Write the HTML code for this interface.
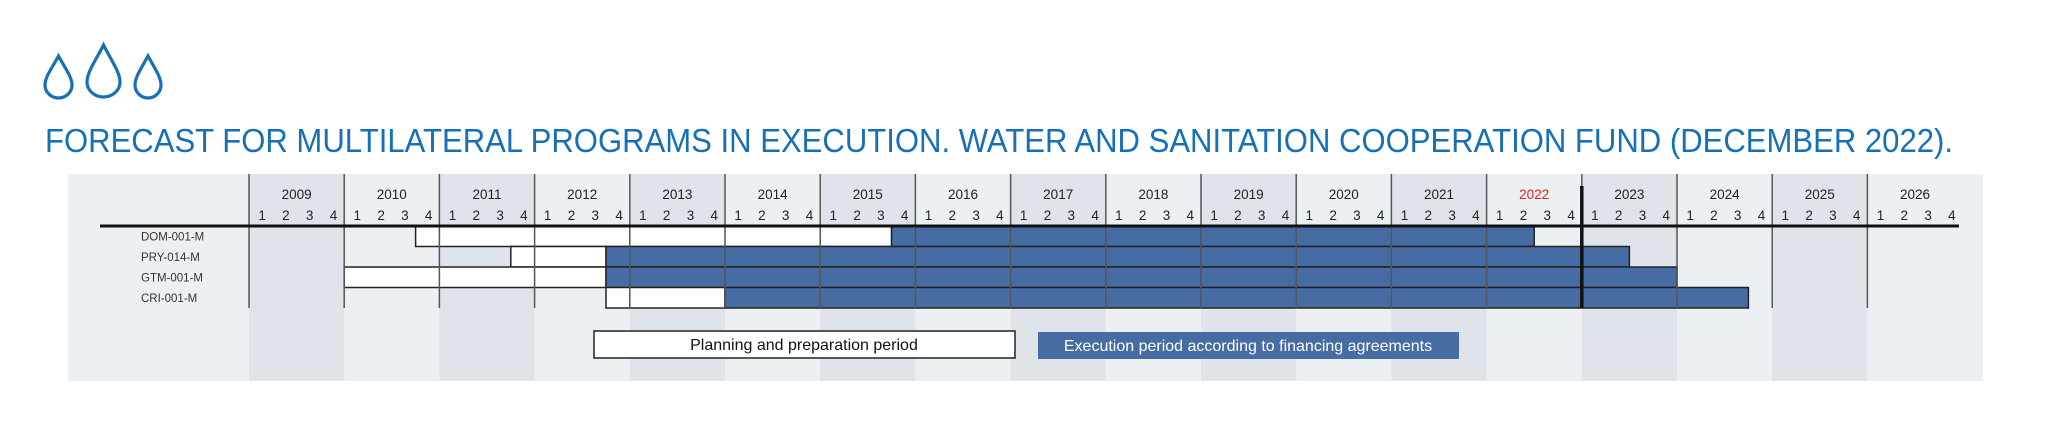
<!DOCTYPE html>
<html><head><meta charset="utf-8"><style>
html,body{margin:0;padding:0;background:#fff;width:2048px;height:444px;overflow:hidden;font-family:"Liberation Sans",sans-serif}
</style></head><body>
<svg id="chart" width="2048" height="444" xmlns="http://www.w3.org/2000/svg" style="font-family:'Liberation Sans',sans-serif">
<g fill="none" stroke="#1570b8" stroke-width="3.2">
<path d="M58.5 56 C52 68 45 77 45 85 A13.5 13 0 0 0 72 85 C72 77 65 68 58.5 56 Z"/>
<path d="M103.5 45 C96 60 87 72 87 82 A16.5 15 0 0 0 120 82 C120 72 111 60 103.5 45 Z"/>
<path d="M148 56 C141.5 68 135 77 135 85 A13 13 0 0 0 161 85 C161 77 154.5 68 148 56 Z"/>
</g>
<text x="45" y="152" font-size="33" fill="#1570b8" textLength="1908" lengthAdjust="spacingAndGlyphs">FORECAST FOR MULTILATERAL PROGRAMS IN EXECUTION. WATER AND SANITATION COOPERATION FUND (DECEMBER 2022).</text>
<rect x="68" y="174" width="1915" height="207" fill="#edf0f3"/>
<g id="bands"></g><g id="bars"></g><g id="grid"></g><g id="labels"></g>
<g>
<rect x="594" y="331" width="421" height="27" fill="#fff" stroke="#222" stroke-width="1.5"/>
<text x="804" y="350" font-size="16" text-anchor="middle" fill="#111">Planning and preparation period</text>
<rect x="1038" y="332" width="421" height="27" fill="#466ca3"/>
<text x="1248" y="351" font-size="16" text-anchor="middle" fill="#fff">Execution period according to financing agreements</text>
</g>
</svg>
<script>
const years=[2009,2010,2011,2012,2013,2014,2015,2016,2017,2018,2019,2020,2021,2022,2023,2024,2025,2026];
const quarterLabels=["1","2","3","4"];
const projects=["DOM-001-M","PRY-014-M","GTM-001-M","CRI-001-M"];
const planStart=[2010.75,2011.75,2010.0,2012.75];
const execStart=[2015.75,2012.75,2012.75,2014.0];
const execEnd=[2022.5,2023.5,2024.0,2024.75];
const currentYear=2022;
const todayMark=2023.0;
const X0=249,YW=95.2,AXY=226,RH=20.5,TOP=174,GBOT=308;
const NS="http://www.w3.org/2000/svg";
function xs(t){return X0+(t-years[0])*YW;}
function ys(i){return AXY+i*RH;}
function mk(tag,attrs,parent){const e=document.createElementNS(NS,tag);for(const k in attrs)e.setAttribute(k,attrs[k]);document.getElementById(parent).appendChild(e);return e;}
years.forEach((y,i)=>{
  if(y%2===1){const b=mk('rect',{x:xs(y),y:TOP,width:YW,height:207,fill:'#dfe3ea'},'bands');
  
  }
  const l=mk('line',{x1:xs(y),x2:xs(y),y1:TOP,y2:GBOT,stroke:'#555','stroke-width':1.5},'grid');
  
  
  const t=mk('text',{x:xs(y)+YW/2,y:199,'font-size':13.5,'text-anchor':'middle',fill:y===currentYear?'#e02020':'#222'},'labels');
  t.textContent=y;
  
  
  quarterLabels.forEach((q,qi)=>{
    const qt=mk('text',{x:xs(y)+(qi+0.55)*YW/4,y:220,'font-size':13.5,'text-anchor':'middle',fill:'#222'},'labels');
    qt.textContent=q;
    
    
  });
});
projects.forEach((p,i)=>{
  const y0=ys(i);
  const pr=mk('rect',{x:xs(planStart[i]),y:y0,width:xs(execStart[i])-xs(planStart[i]),height:RH,fill:'#fff',stroke:'#222','stroke-width':1.5},'bars');
  
  
  const er=mk('rect',{x:xs(execStart[i]),y:y0,width:xs(execEnd[i])-xs(execStart[i]),height:RH,fill:'#466ca3',stroke:'#222','stroke-width':1.5},'bars');
  
  
  const lt=mk('text',{x:141,y:y0+14.5,'font-size':11.5,fill:'#333'},'labels');
  lt.textContent=p;
  
  
});
const ax=mk('line',{x1:100,x2:1959,y1:AXY,y2:AXY,stroke:'#111','stroke-width':3},'grid');


const td=mk('line',{x1:xs(todayMark),x2:xs(todayMark),y1:TOP+12,y2:GBOT,stroke:'#111','stroke-width':3.5},'grid');


</script>
</body></html>
